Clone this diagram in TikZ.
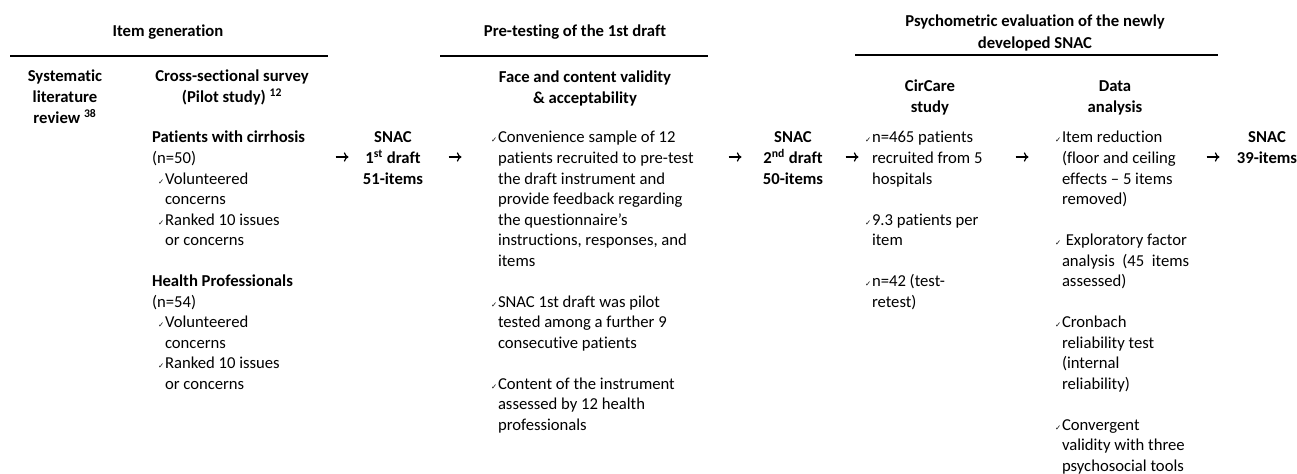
\documentclass[tikz,border=0pt]{standalone}
\usepackage{fontspec}
\setmainfont{Carlito}[Ligatures={NoCommon}]
\newfontfamily\dvfont{DejaVu Sans}
\usetikzlibrary{arrows.meta}
\newcommand\chk{\makebox[0pt][r]{{\dvfont\fontsize{5.5}{5.5}\selectfont ✓}\hspace{0.6pt}}}
\newcommand\ind{\hspace*{9.75pt}}
\newcommand\blank{\\[15.4pt]}
\newcommand\colL[1]{\begin{tabular}[t]{@{}l@{}}#1\end{tabular}}
\newcommand\colC[1]{\begin{tabular}[t]{@{}c@{}}#1\end{tabular}}
\tikzset{
  txt/.style={inner sep=0pt, outer sep=0pt, font=\fontsize{12.5}{15.4}\selectfont, anchor=base west, text=black},
  hdr/.style={inner sep=0pt, outer sep=0pt, font=\bfseries\fontsize{12.5}{15.4}\selectfont, anchor=base, text=black},
  rule/.style={line width=0.8pt, black},
  flow/.style={line width=0.9pt, -{To[length=3.5pt,width=7pt]}}
}
\begin{document}
\begin{tikzpicture}[x=0.75pt,y=-0.75pt]
\useasboundingbox (0,0) rectangle (1297,474);
% stage headers
\node[hdr] (hA) at (168,37) {Item generation};
\node[hdr] (hB) at (575,37) {Pre-testing of the 1st draft};
\node[hdr, font=\bfseries\fontsize{12.5}{16.5}\selectfont] (hC) at (1035,27) {\colC{Psychometric evaluation of the newly\\developed SNAC}};
\coordinate (rA1) at (10,56); \coordinate (rA2) at (328,56);
\coordinate (rB1) at (440,56); \coordinate (rB2) at (708,56);
\coordinate (rC1) at (855,55); \coordinate (rC2) at (1218,55);
\draw[rule] (rA1) -- (rA2);
\draw[rule] (rB1) -- (rB2);
\draw[rule] (rC1) -- (rC2);
% column headers
\node[hdr] (sys) at (65,82) {\colC{Systematic\\literature\\review \textsuperscript{38}}};
\node[hdr] (cross) at (232,82) {\colC{Cross-sectional survey\\(Pilot study) \textsuperscript{12}}};
\node[hdr] (face) at (585,83) {\colC{Face and content validity\\\& acceptability}};
\node[hdr] (circ) at (930,92) {\colC{CirCare\\study}};
\node[hdr] (data) at (1115,92) {\colC{Data\\analysis}};
% left column
\node[txt] (left) at (152,143) {\colL{\textbf{Patients with cirrhosis}\\(n=50)\\\ind\chk Volunteered\\\ind concerns\\\ind\chk Ranked 10 issues\\\ind or concerns\blank
\textbf{Health Professionals}\\(n=54)\\\ind\chk Volunteered\\\ind concerns\\\ind\chk Ranked 10 issues\\\ind or concerns}};
% SNAC boxes
\node[hdr] (s1) at (393,143) {\colC{SNAC\\1\textsuperscript{st} draft\\51-items}};
\node[hdr] (s2) at (793,143) {\colC{SNAC\\2\textsuperscript{nd} draft\\50-items}};
\node[hdr] (s3) at (1267,143) {\colC{SNAC\\39-items}};
% face column
\node[txt] (facet) at (498,143) {\colL{\chk Convenience sample of 12\\patients recruited to pre-test\\the draft instrument and\\provide feedback regarding\\the questionnaire’s\\instructions, responses, and\\items\blank
\chk SNAC 1st draft was pilot\\tested among a further 9\\consecutive patients\blank
\chk Content of the instrument\\assessed by 12 health\\professionals}};
% CirCare column
\node[txt] (circt) at (872,143) {\colL{\chk n=465 patients\\recruited from 5\\hospitals\blank
\chk 9.3 patients per\\item\blank
\chk n=42 (test-\\retest)}};
% data column
\node[txt] (datat) at (1062,143) {\colL{\chk Item reduction\\(floor and ceiling\\effects – 5 items\\removed)\blank
\chk\ Exploratory factor\\analysis \ (45 \ items\\assessed)\blank
\chk Cronbach\\reliability test\\(internal\\reliability)\blank
\chk Convergent\\validity with three\\psychosocial tools}};
% arrows
\foreach \n/\x in {1/342,2/455,3/735,4/852,5/1022,6/1213}{
  \coordinate (a\n s) at (\x-6.5,157);
  \coordinate (a\n e) at (\x+6.5,157);
  \draw[flow] (a\n s) -- (a\n e);
}
\end{tikzpicture}
\end{document}
